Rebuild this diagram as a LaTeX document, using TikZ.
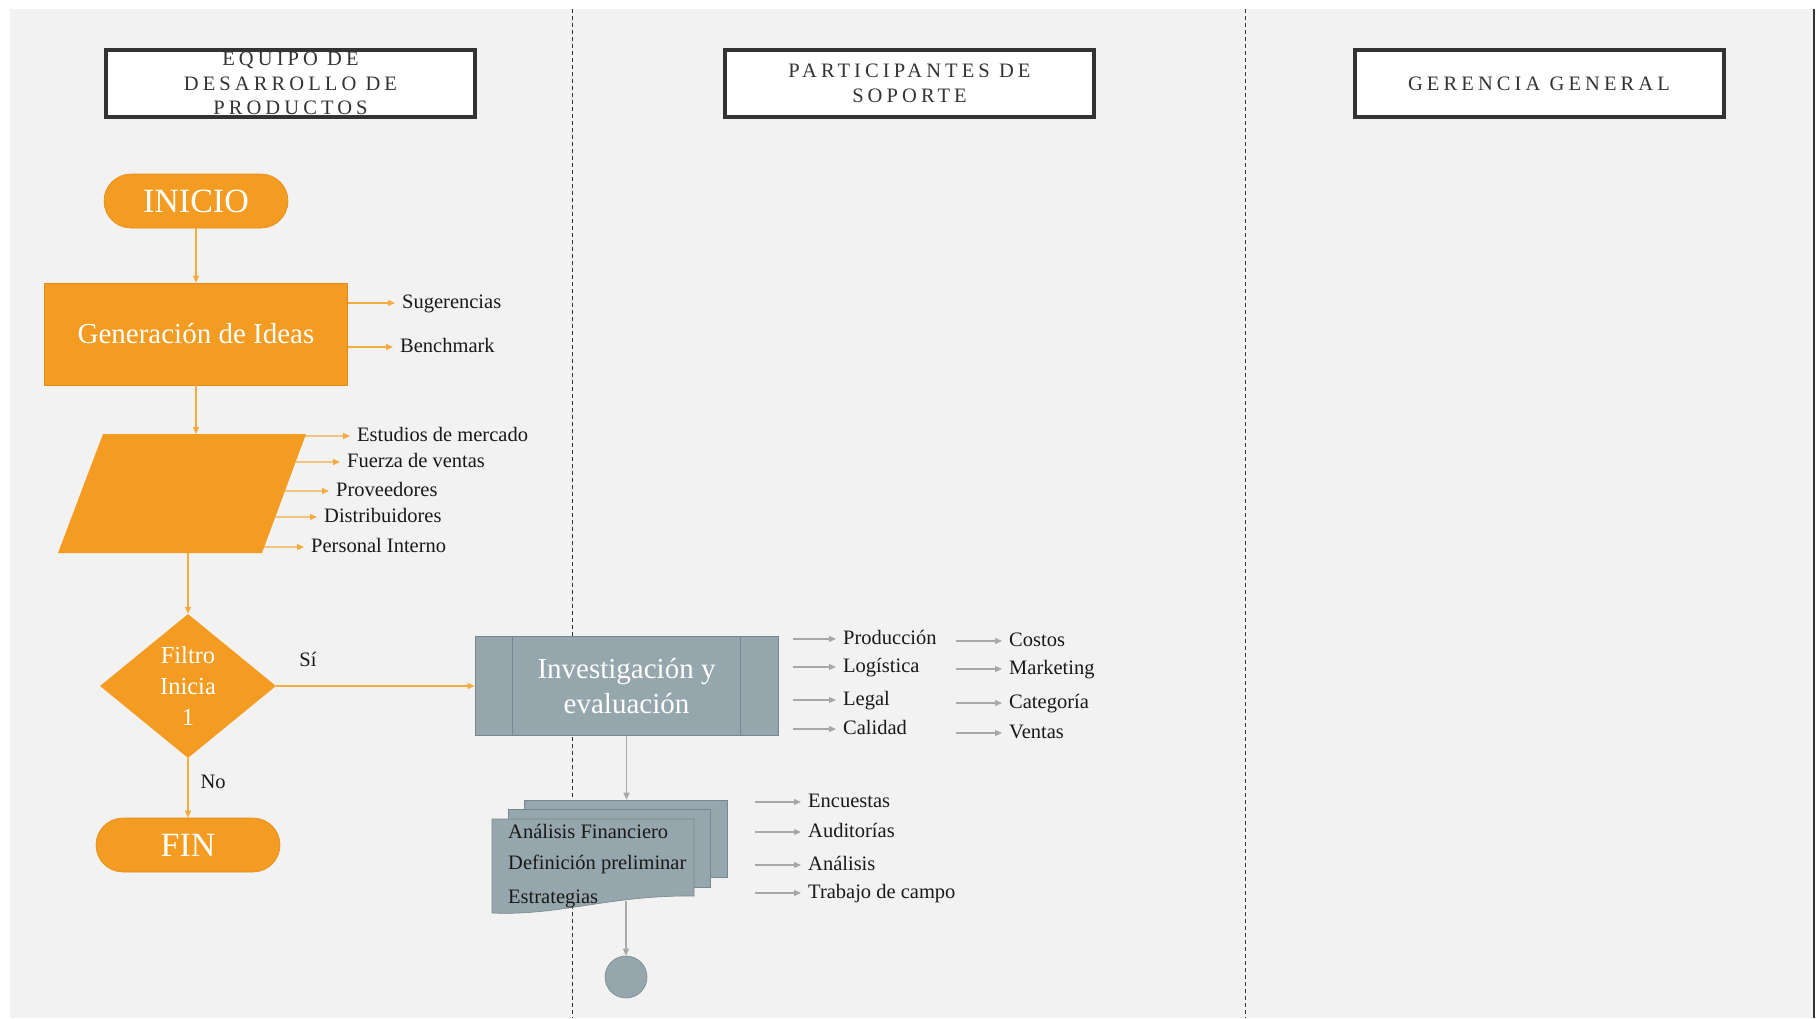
\documentclass[tikz,border=0pt]{standalone}
\usepackage{fontspec}
\setmainfont{Liberation Serif}
\newfontfamily\headfont[LetterSpace=20]{Liberation Serif}
\usetikzlibrary{arrows.meta,calc,positioning,shapes.geometric}

\definecolor{naranja}{RGB}{243,156,33}
\definecolor{naranjaosc}{RGB}{225,140,25}
\definecolor{flechanar}{RGB}{245,172,62}
\definecolor{grisazul}{RGB}{149,166,172}
\definecolor{grisborde}{RGB}{118,136,143}
\definecolor{flechagris}{RGB}{168,168,168}
\definecolor{fondo}{RGB}{242,242,242}
\definecolor{tinta}{RGB}{51,51,51}

\tikzset{
	carril/.style={draw=tinta,line width=4pt,fill=white,minimum width=369pt,minimum height=67pt,
		inner sep=0pt,align=center,text=tinta,font=\headfont\fontsize{20.5}{24.5}\selectfont},
	terminal/.style={fill=naranja,draw=naranjaosc,line width=.6pt,rounded corners=27pt,
		minimum width=184pt,minimum height=54pt,text=white,font=\fontsize{34}{36}\selectfont},
	proceso/.style={fill=naranja,draw=naranjaosc,line width=.6pt,minimum width=303pt,
		minimum height=102pt,text=white,font=\fontsize{29}{33}\selectfont},
	decision/.style={diamond,fill=naranja,minimum width=176pt,minimum height=144pt,inner sep=0pt,
		aspect=1.2,align=center,text=white,font=\fontsize{24.5}{31}\selectfont},
	predef/.style={fill=grisazul,draw=grisborde,line width=.6pt,minimum width=303pt,minimum height=99pt,
		align=center,text=white,font=\fontsize{29}{35}\selectfont},
	hoja/.style={fill=grisazul,draw=grisborde,line width=.6pt,inner sep=0pt},
	lbl/.style={inner sep=0pt,text height=14pt,text depth=4pt,text=black!90,font=\fontsize{20.5}{24}\selectfont},
	etiqueta/.style={lbl,anchor=west},
	flechan/.style={draw=flechanar,line width=1.3pt,-{Triangle[length=7pt,width=6pt]}},
	flechag/.style={draw=flechagris,line width=1.1pt,-{Triangle[length=7pt,width=6pt]}},
}

\begin{document}
\begin{tikzpicture}[x=1pt,y=-1pt]
	\useasboundingbox (0,0) rectangle (1820,1018);
	\fill[white] (0,0) rectangle (1820,1018);
	\fill[fondo] (10,9) rectangle (1814,1018);
	\draw[tinta,line width=1.2pt] (1814,9) -- (1814,1018);
	\draw[tinta,line width=1pt,dash pattern=on 4pt off 3pt]
		(572,9) -- (572,1018)
		(1245,9) -- (1245,1018)
	;

	% encabezados de carril
	\path
		(290.5,83.5) node[carril] (equipo) {EQUIPO DE\\DESARROLLO DE\\PRODUCTOS}
		(909.5,83.5) node[carril] (soporte) {PARTICIPANTES DE\\SOPORTE}
		(1539,83.5) node[carril] (gerencia) {GERENCIA GENERAL}
		;

	% flujo
	\path
		(196,201) node[terminal] (inicio) {INICIO}
		(196,334) node[proceso] (ideas) {Generación de Ideas}
		(103,434) coordinate (P1)
		(306,434) coordinate (P2)
		(262,553) coordinate (P3)
		(58,553) coordinate (P4)
		(196,434) coordinate (Pin)
		(188,553) coordinate (Pout)
		(188,686) node[decision] (filtro) {Filtro\\Inicia\\1}
		(188,845) node[terminal] (fin) {FIN}
		(626.5,686) node[predef] (invest) {Investigación y\\evaluación}
		(625.5,838.5) node[hoja,minimum width=203pt,minimum height=77pt] (doc3) {}
		(609,848) node[hoja,minimum width=202pt,minimum height=78pt] (doc2) {}
		(626,977) node[circle,fill=grisazul,draw=grisborde,line width=.6pt,minimum size=42pt] (conector) {}
		;
	\fill[naranja] (P1) -- (P2) -- (P3) -- (P4) -- cycle;
	\draw[grisborde,line width=.8pt]
		([xshift=38pt]invest.north west) -- ([xshift=38pt]invest.south west)
		([xshift=-38pt]invest.north east) -- ([xshift=-38pt]invest.south east)
	;
	\filldraw[hoja] (492,819) -- (694,819) -- (694,896)
		.. controls (610,895) and (560,916) .. (492,913) -- cycle;
	\coordinate (pie) at (626,901);

	% textos
	\path
		(402,303) node[etiqueta] (suger) {Sugerencias}
		(400,347) node[etiqueta] (bench) {Benchmark}
		(357,436) node[etiqueta] (estud) {Estudios de mercado}
		(347,462) node[etiqueta] (fuerza) {Fuerza de ventas}
		(336,491) node[etiqueta] (prove) {Proveedores}
		(324,517) node[etiqueta] (distr) {Distribuidores}
		(311,547) node[etiqueta] (personal) {Personal Interno}
		(843,639) node[etiqueta] (prod) {Producción}
		(843,667) node[etiqueta] (logi) {Logística}
		(843,700) node[etiqueta] (legal) {Legal}
		(843,729) node[etiqueta] (calid) {Calidad}
		(1009,641) node[etiqueta] (costos) {Costos}
		(1009,669) node[etiqueta] (mkt) {Marketing}
		(1009,703) node[etiqueta] (categ) {Categoría}
		(1009,733) node[etiqueta] (ventas) {Ventas}
		(508,833) node[etiqueta] (docA) {Análisis Financiero}
		(508,864) node[etiqueta] (docB) {Definición preliminar}
		(508,898) node[etiqueta] (docC) {Estrategias}
		(808,802) node[etiqueta] (encu) {Encuestas}
		(808,832) node[etiqueta] (audi) {Auditorías}
		(808,865) node[etiqueta] (anal) {Análisis}
		(808,893) node[etiqueta] (trabajo) {Trabajo de campo}
		;

	% conectores
	\path
		(inicio) edge[flechan] (ideas)
		(ideas) edge[flechan] (Pin)
		(Pout) edge[flechan] (filtro)
		(filtro) edge[flechan] node[lbl,pos=.16,above=15pt] {Sí} (invest)
		(filtro) edge[flechan] node[lbl,pos=.43,right=12pt] {No} (fin)
		(ideas.east |- suger) edge[flechan,shorten >=7pt] (suger.west)
		(ideas.east |- bench) edge[flechan,shorten >=7pt] (bench.west)
		($(P2)!.017!(P3)$) edge[flechan,shorten >=7pt] (estud.west)
		($(P2)!.235!(P3)$) edge[flechan,shorten >=7pt] (fuerza.west)
		($(P2)!.479!(P3)$) edge[flechan,shorten >=7pt] (prove.west)
		($(P2)!.697!(P3)$) edge[flechan,shorten >=7pt] (distr.west)
		($(P2)!.950!(P3)$) edge[flechan,shorten >=7pt] (personal.west)
		;
	\path
		(invest.south) edge[flechag] (invest.south |- doc3.north)
		(pie) edge[flechag] (conector)
		([xshift=-50pt]prod.west) edge[flechag,shorten >=7pt] (prod.west)
		([xshift=-50pt]logi.west) edge[flechag,shorten >=7pt] (logi.west)
		([xshift=-50pt]legal.west) edge[flechag,shorten >=7pt] (legal.west)
		([xshift=-50pt]calid.west) edge[flechag,shorten >=7pt] (calid.west)
		([xshift=-53pt]costos.west) edge[flechag,shorten >=7pt] (costos.west)
		([xshift=-53pt]mkt.west) edge[flechag,shorten >=7pt] (mkt.west)
		([xshift=-53pt]categ.west) edge[flechag,shorten >=7pt] (categ.west)
		([xshift=-53pt]ventas.west) edge[flechag,shorten >=7pt] (ventas.west)
		([xshift=-53pt]encu.west) edge[flechag,shorten >=7pt] (encu.west)
		([xshift=-53pt]audi.west) edge[flechag,shorten >=7pt] (audi.west)
		([xshift=-53pt]anal.west) edge[flechag,shorten >=7pt] (anal.west)
		([xshift=-53pt]trabajo.west) edge[flechag,shorten >=7pt] (trabajo.west)
		;
\end{tikzpicture}
\end{document}
